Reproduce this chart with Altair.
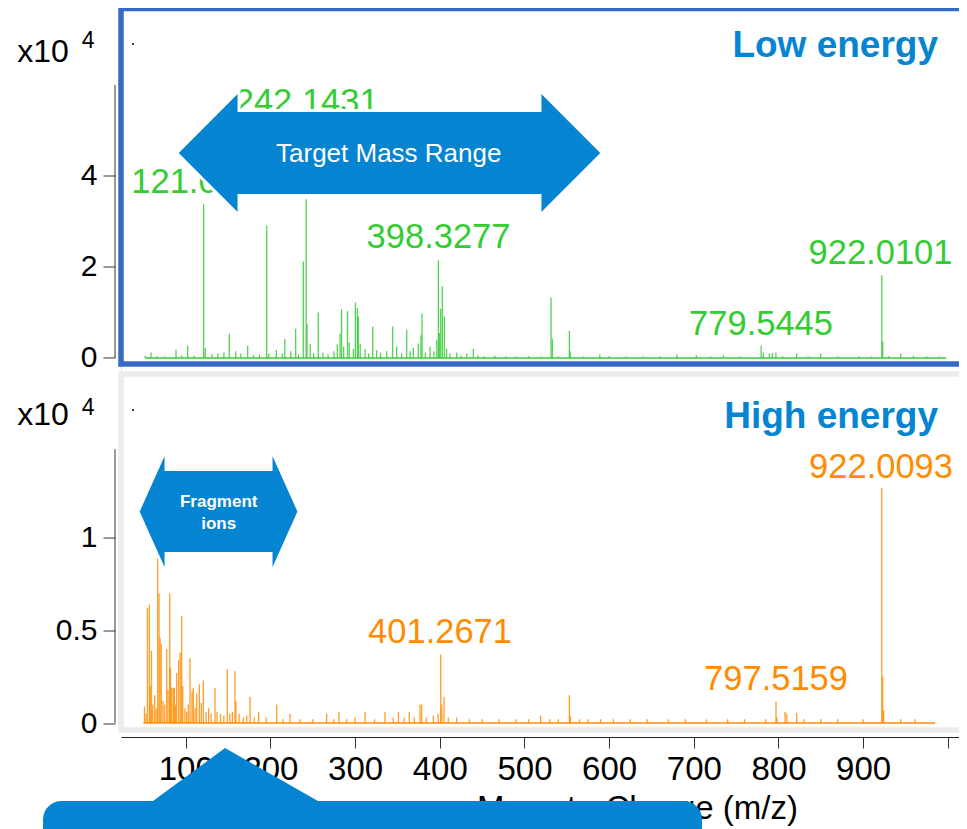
import altair as alt
import pandas as pd

# ---------------- data ----------------
low_mz = [52.0, 59.0, 66.0, 75.0, 88.5, 95.0, 102.2, 110.0, 121.05, 123.0, 131.0, 138.0, 145.0,
          151.4, 159.0, 165.0, 173.1, 180.0, 187.0, 195.6, 198.0, 207.0, 214.0, 217.0, 224.0,
          229.8, 233.0, 238.8, 242.14, 243.2, 247.0, 251.0, 256.5, 262.0, 268.0, 275.0, 279.0,
          282.2, 284.0, 286.5, 291.0, 293.0, 298.0, 300.3, 302.6, 303.8, 306.0, 311.7, 316.0,
          320.8, 325.5, 330.0, 337.3, 344.4, 349.1, 355.0, 360.9, 365.0, 368.8, 374.6, 377.8,
          379.0, 383.0, 388.5, 393.0, 396.5, 398.33, 399.5, 401.1, 403.0, 405.4, 408.0, 412.0,
          420.0, 425.0, 431.8, 439.6, 445.0, 452.0, 465.0, 478.0, 490.0, 505.0, 520.0, 531.4,
          532.9, 540.0, 553.0, 554.0, 570.0, 589.0, 600.0, 620.0, 640.0, 660.0, 680.0, 703.0,
          720.0, 735.0, 755.0, 779.54, 782.1, 789.2, 792.8, 797.0, 805.0, 821.5, 835.0, 849.9,
          870.0, 895.0, 910.0, 922.01, 923.1, 930.0, 944.4, 959.4, 975.0, 990.0]
low_int = [0.05, 0.12, 0.04, 0.03, 0.18, 0.06, 0.27, 0.05, 3.38, 0.22, 0.08, 0.10, 0.12,
           0.53, 0.15, 0.10, 0.27, 0.06, 0.08, 2.91, 0.10, 0.18, 0.10, 0.42, 0.15,
           0.64, 0.08, 2.12, 3.49, 0.75, 0.30, 0.10, 1.00, 0.12, 0.08, 0.15, 0.30,
           0.54, 1.07, 0.25, 1.03, 0.34, 0.20, 1.22, 1.10, 0.91, 0.30, 0.20, 0.10,
           0.69, 0.17, 0.12, 0.15, 0.69, 0.25, 0.10, 0.62, 0.15, 0.22, 0.32, 0.50,
           0.98, 0.12, 0.25, 0.15, 0.40, 2.15, 0.55, 1.08, 1.57, 0.91, 0.20, 0.10,
           0.12, 0.06, 0.10, 0.20, 0.06, 0.04, 0.05, 0.04, 0.03, 0.04, 0.03, 1.33,
           0.43, 0.04, 0.60, 0.15, 0.03, 0.08, 0.04, 0.03, 0.03, 0.04, 0.08, 0.06,
           0.03, 0.06, 0.03, 0.27, 0.12, 0.10, 0.11, 0.12, 0.04, 0.10, 0.03, 0.10,
           0.03, 0.04, 0.03, 1.82, 0.36, 0.04, 0.10, 0.05, 0.04, 0.03]

high_mz = [51.2, 53.0, 54.7, 57.0, 58.0, 59.5, 61.0, 63.3, 65.0, 66.8, 68.4, 69.6, 71.0, 73.0,
           75.0, 77.5, 79.0, 81.0, 82.0, 83.4, 85.3, 86.5, 88.0, 89.3, 91.6, 93.5, 95.2, 96.4,
           99.0, 101.0, 103.0, 105.0, 107.4, 108.9, 111.0, 112.9, 116.0, 118.3, 120.7, 124.0,
           127.0, 130.0, 134.5, 137.0, 141.0, 145.0, 149.0, 152.0, 155.0, 158.1, 159.3, 163.0,
           168.0, 172.0, 175.9, 181.0, 186.0, 195.0, 207.4, 215.0, 223.0, 235.0, 250.0, 266.4,
           275.0, 281.0, 290.0, 300.0, 311.7, 323.0, 335.3, 345.0, 351.1, 358.0, 364.0, 370.0,
           376.6, 378.6, 384.0, 392.4, 398.0, 401.1, 402.3, 405.0, 410.0, 420.0, 435.0, 450.0,
           470.0, 490.0, 505.0, 519.2, 530.0, 540.0, 553.0, 554.2, 565.0, 575.0, 590.0, 605.0,
           625.0, 645.0, 670.0, 690.0, 715.0, 740.0, 760.0, 785.0, 797.1, 798.3, 807.7, 809.8,
           821.5, 830.0, 850.0, 870.0, 900.0, 922.0, 923.1, 924.2, 944.4, 961.3]
high_int = [0.09, 0.05, 0.62, 0.64, 0.20, 0.39, 0.10, 0.15, 0.08, 0.93, 0.70, 0.46, 0.43, 0.12,
            0.10, 0.40, 0.18, 0.70, 0.30, 0.19, 0.19, 0.19, 0.10, 0.27, 0.34, 0.38, 0.58, 0.20,
            0.08, 0.06, 0.10, 0.35, 0.17, 0.19, 0.08, 0.16, 0.21, 0.11, 0.23, 0.06,
            0.08, 0.05, 0.19, 0.06, 0.05, 0.04, 0.29, 0.05, 0.06, 0.28, 0.12, 0.05,
            0.03, 0.04, 0.14, 0.03, 0.06, 0.03, 0.10, 0.02, 0.05, 0.02, 0.02, 0.05,
            0.02, 0.06, 0.02, 0.03, 0.06, 0.02, 0.06, 0.03, 0.06, 0.03, 0.06, 0.03,
            0.10, 0.10, 0.03, 0.04, 0.05, 0.37, 0.10, 0.14, 0.03, 0.03, 0.02, 0.02,
            0.02, 0.02, 0.02, 0.04, 0.02, 0.02, 0.15, 0.04, 0.02, 0.02, 0.02, 0.02,
            0.02, 0.02, 0.02, 0.02, 0.02, 0.02, 0.02, 0.02, 0.115, 0.03, 0.06, 0.05,
            0.055, 0.02, 0.02, 0.02, 0.02, 1.27, 0.25, 0.07, 0.02, 0.02]

low_baseline = [52.0, 998.0]
high_baseline = [50.0, 985.0]

low_labels = ["121.0509", "242.1431", "398.3277", "779.5445", "922.0101"]
low_label_x = [120.6, 242.8, 398.5, 779.4, 920.5]
low_label_y = [3.63, 5.385, 2.42, 0.505, 2.07]

high_labels = ["922.0093", "401.2671", "797.5159"]
high_label_x = [921.1, 400.3, 797.1]
high_label_y = [1.323, 0.432, 0.178]

x_ticks = [100, 200, 300, 400, 500, 600, 700, 800, 900, 1000]
low_y_ticks = [0, 2, 4]
high_y_ticks = [0, 0.5, 1]

# ---------------- style / layout ----------------
GREEN = "#33cc33"
ORANGE = "#ff8c00"
BLUE = "#0584d2"
FRAME_BLUE = "#3469c4"
FRAME_GRAY = "#ececec"
FONT = "Liberation Sans"

W = 838
H = 721.5
X_DOMAIN = [23.5, 1013.2]
LOW_DOMAIN = [-8.176, 7.681]     # top panel occupies the upper part of the plot area
HIGH_DOMAIN = [-0.0378, 3.862]   # bottom panel occupies the lower part

xs = alt.Scale(domain=X_DOMAIN, nice=False, zero=False)
ys_low = alt.Scale(domain=LOW_DOMAIN, nice=False, zero=False)
ys_high = alt.Scale(domain=HIGH_DOMAIN, nice=False, zero=False)


def yaxis(vals):
    return alt.Axis(values=vals, orient="left", domain=False, grid=False, tickSize=12,
                    tickColor="#333333", labelFontSize=30, labelPadding=6, labelColor="black",
                    labelFont=FONT, offset=6, title=None, format="~g")


ax_low = yaxis(low_y_ticks)
ax_high = yaxis(high_y_ticks)
ax_x = alt.Axis(values=x_ticks, orient="bottom", grid=False, tickSize=11, tickColor="#333333",
                domainColor="#222222", labelFontSize=33, labelPadding=5, labelColor="black",
                labelFont=FONT, labelExpr="datum.value >= 1000 ? '' : datum.label",
                labelFlush=False, offset=7, title="Mass-to-Charge (m/z)", titleFont=FONT,
                titleFontSize=33, titleFontWeight="normal", titleColor="black", titleX=516,
                titleY=81, titleAlign="center", titleBaseline="alphabetic")

TARGET_ARROW = ("M -1 0 L -0.707 -0.294 L -0.707 -0.2 L 0.707 -0.2 L 0.707 -0.294 L 1 0 "
                "L 0.707 0.294 L 0.707 0.2 L -0.707 0.2 L -0.707 0.294 Z")
FRAG_ARROW = ("M -1 0 L -0.652 -0.776 L -0.652 -0.522 L 0.652 -0.522 L 0.652 -0.776 L 1 0 "
              "L 0.652 0.776 L 0.652 0.522 L -0.652 0.522 L -0.652 0.776 Z")
CALLOUT_TRI = "M -0.127 -0.642 L 1 0 L 1 0.1 L -1 0.1 L -1 0 Z"

one = pd.DataFrame({"k": [0]})


def frame(y0, y1, color):
    return alt.Chart(one).mark_rect(fill="white", stroke=color, strokeWidth=5.5).encode(
        x=alt.value(0), x2=alt.value(W + 20), y=alt.value(y0), y2=alt.value(y1))


def panel(mz, inten, baseline, color, ys, ax_y, labels, lab_x, lab_y, title, title_pos,
          axis_top, mult_pos, dot_pos):
    peaks = pd.DataFrame({"mz": mz, "i": inten, "z": [0.0] * len(mz)})
    base = pd.DataFrame({"x": [baseline[0]], "x2": [baseline[1]], "y": [0.0]})
    labs = pd.DataFrame({"x": lab_x, "y": lab_y, "t": labels})
    Y = lambda f: alt.Y(f, type="quantitative", scale=ys, axis=ax_y)
    X = lambda f: alt.X(f, type="quantitative", scale=xs, axis=ax_x)

    axis_line = alt.Chart(pd.DataFrame({"a": [0.0], "b": [axis_top]})).mark_rule(
        color="#333333", strokeWidth=1).encode(x=alt.value(-6), y=Y("a"), y2="b:Q")
    base_l = alt.Chart(base).mark_rule(color=color, strokeWidth=1.4).encode(
        x=X("x"), x2="x2:Q", y=Y("y"))
    sticks = alt.Chart(peaks).mark_rule(color=color, strokeWidth=1.3, opacity=0.85).encode(
        x=X("mz"), y=Y("z"), y2="i:Q")
    lab = alt.Chart(labs).mark_text(font=FONT, fontSize=34.5, color=color, align="center",
                                    baseline="alphabetic").encode(x=X("x"), y=Y("y"), text="t:N")
    ttl = alt.Chart(pd.DataFrame({"x": [title_pos[0]], "y": [title_pos[1]], "t": [title]})).mark_text(
        font=FONT, fontSize=37, fontWeight="bold", color=BLUE, align="right",
        baseline="alphabetic").encode(x=X("x"), y=Y("y"), text="t:N")
    mult = alt.Chart(pd.DataFrame({"x": [mult_pos[0]], "y": [mult_pos[1]], "t": ["x10"]})).mark_text(
        font=FONT, fontSize=32, color="black", align="left", baseline="alphabetic").encode(
        x=X("x"), y=Y("y"), text="t:N")
    expo = alt.Chart(pd.DataFrame({"x": [mult_pos[2]], "y": [mult_pos[3]], "t": ["4"]})).mark_text(
        font=FONT, fontSize=23, color="black", align="left", baseline="alphabetic").encode(
        x=X("x"), y=Y("y"), text="t:N")
    dot = alt.Chart(pd.DataFrame({"x": [dot_pos[0]], "y": [dot_pos[1]]})).mark_point(
        filled=True, color="black", size=4, opacity=1).encode(x=X("x"), y=Y("y"))
    return [axis_line, base_l, sticks, lab, ttl, mult, expo, dot], X, Y


# ---------------- top panel (low energy) ----------------
top_layers, Xt, Yt = panel(low_mz, low_int, low_baseline, GREEN, ys_low, ax_low,
                           low_labels, low_label_x, low_label_y, "Low energy", (988.4, 6.615),
                           6.0, (-99.0, 6.51, -23.0, 6.81), (37.7, 6.90))

target = alt.Chart(pd.DataFrame({"x": [340.6], "y": [4.505]})).mark_point(
    shape=TARGET_ARROW, size=181135, filled=True, fill=BLUE, stroke="white", strokeWidth=3,
    opacity=1).encode(x=Xt("x"), y=Yt("y"))
target_txt = alt.Chart(pd.DataFrame({"x": [339.7], "y": [4.30], "t": ["Target Mass Range"]})).mark_text(
    font=FONT, fontSize=26, color="white", align="center", baseline="alphabetic").encode(
    x=Xt("x"), y=Yt("y"), text="t:N")

top = alt.layer(frame(0, 355.5, FRAME_BLUE), *top_layers, target, target_txt)

# ---------------- bottom panel (high energy) ----------------
bot_layers, Xb, Yb = panel(high_mz, high_int, high_baseline, ORANGE, ys_high, ax_high,
                           high_labels, high_label_x, high_label_y, "High energy", (988.4, 1.593),
                           1.48, (-99.0, 1.611, -23.0, 1.665), (37.7, 1.692))

frag = alt.Chart(pd.DataFrame({"x": [138.7], "y": [1.143]})).mark_point(
    shape=FRAG_ARROW, size=25921, filled=True, fill=BLUE, stroke="white", strokeWidth=3,
    opacity=1).encode(x=Xb("x"), y=Yb("y"))
frag_txt = alt.Chart(pd.DataFrame({"x": [138.9, 138.9], "y": [1.168, 1.047],
                                   "t": ["Fragment", "ions"]})).mark_text(
    font=FONT, fontSize=17, fontWeight="bold", color="white", align="center",
    baseline="alphabetic").encode(x=Xb("x"), y=Yb("y"), text="t:N")

callout_rect = alt.Chart(pd.DataFrame({"x": [-68.6], "x2": [709.7], "y": [-0.4216], "y2": [-0.62]})).mark_rect(
    color=BLUE, cornerRadiusTopLeft=25, cornerRadiusTopRight=25, opacity=1).encode(
    x=Xb("x"), x2="x2:Q", y=Yb("y"), y2="y2:Q")
callout_tri = alt.Chart(pd.DataFrame({"x": [158.7], "y": [-0.4216]})).mark_point(
    shape=CALLOUT_TRI, size=27225, filled=True, fill=BLUE, opacity=1, strokeWidth=0).encode(
    x=Xb("x"), y=Yb("y"))

bottom = alt.layer(frame(365.5, 721.5, FRAME_GRAY), *bot_layers, frag, frag_txt,
                   callout_rect, callout_tri)

chart = alt.layer(top, bottom).resolve_scale(y="independent").properties(
    width=W, height=H,
    autosize=alt.AutoSizeParams(type="none"),
    padding={"left": 113, "top": 0.5, "right": 0, "bottom": 105},
    background="white")

chart.save("out.html", embed_options={"renderer": "svg", "actions": False})
